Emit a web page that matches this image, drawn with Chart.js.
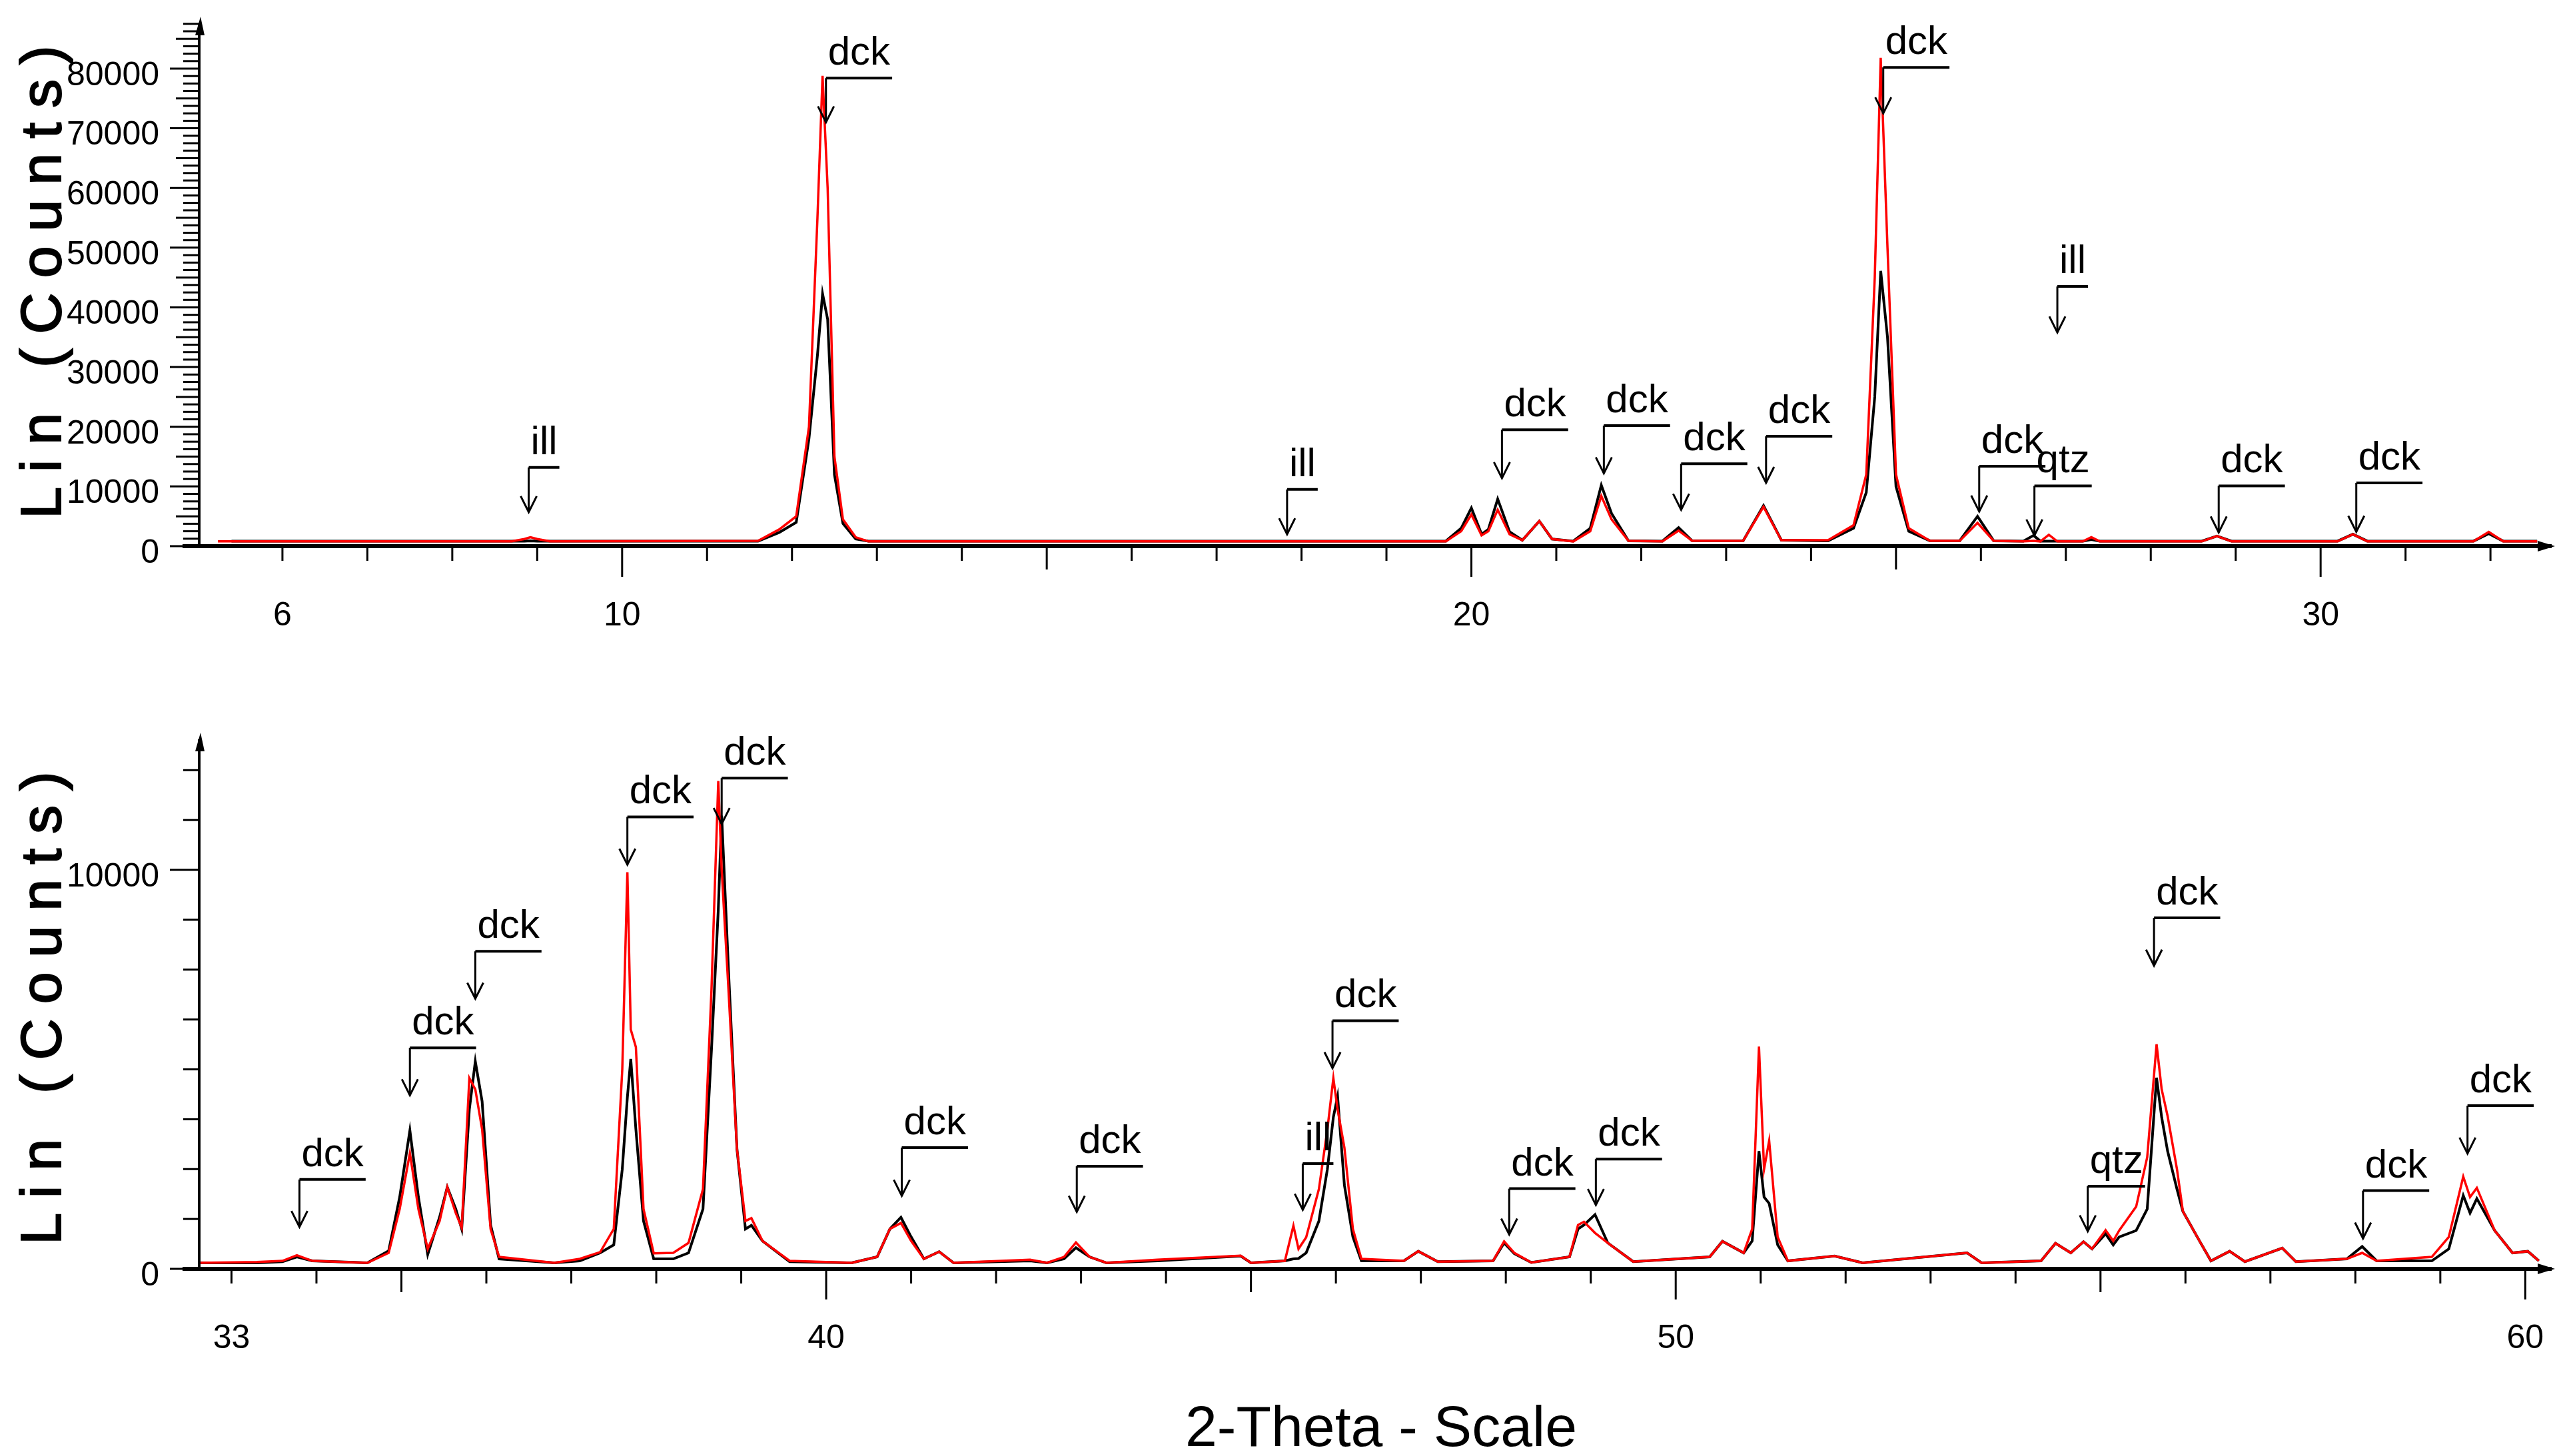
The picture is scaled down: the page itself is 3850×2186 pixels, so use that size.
<!DOCTYPE html>
<html>
<head>
<meta charset="utf-8">
<script src="https://cdn.jsdelivr.net/npm/chart.js@4.4.1/dist/chart.umd.min.js"></script>
<style>
  html, body { margin: 0; padding: 0; background: #fff; }
  canvas { position: absolute; left: 0; }
  #xTitle { position: absolute; left: 0; width: 4146px; top: 2092px; text-align: center;
    font: 86px 'Liberation Sans', Arial, sans-serif; color: #000; }
</style>
</head>
<body>
<canvas id="topChart" width="3850" height="1000" style="top:0"></canvas>
<canvas id="bottomChart" width="3850" height="1186" style="top:1000px"></canvas>
<div id="xTitle">2-Theta - Scale</div>
<script>
// ---- top panel (5 - 33 deg) ----
const topTheta = [5.24, 5.4, 8.7, 8.85, 8.92, 9.0, 9.15, 11.6, 11.85, 12.05, 12.2, 12.3, 12.36, 12.42, 12.5, 12.6, 12.75, 12.9,
  19.7, 19.88, 20.0, 20.12, 20.2, 20.31, 20.45, 20.6, 20.8, 20.95, 21.2, 21.4, 21.53, 21.65, 21.85,
  22.25, 22.44, 22.6, 23.2, 23.44, 23.65, 24.2, 24.5, 24.65, 24.75, 24.82, 24.9, 25.0, 25.15, 25.4,
  25.75, 25.96, 26.15, 26.5, 26.62, 26.7, 26.8, 26.9, 27.2, 27.3, 27.4, 28.6, 28.78, 28.95,
  30.2, 30.38, 30.55, 31.8, 31.98, 32.15, 32.55];
const topRed = [800, 800, 800, 1200, 1500, 1200, 800, 900, 2800, 5000, 20000, 55000, 78800, 60000, 15000, 4500, 1500, 800,
  800, 2500, 5300, 1800, 2500, 6100, 2000, 1000, 4200, 1200, 800, 2500, 8400, 4500, 900,
  800, 2600, 900, 900, 6600, 1000, 1000, 3500, 12000, 45000, 81800, 50000, 12000, 3000, 900,
  900, 3900, 900, 800, 900, 800, 1900, 800, 800, 1500, 800, 800, 1700, 800,
  800, 2000, 800, 800, 2400, 800, 800];
const topBlack = [null, 850, 850, 850, 900, 850, 850, 850, 2300, 4000, 18000, 32000, 42300, 38000, 12000, 3800, 1200, 850,
  850, 3000, 6400, 2000, 2800, 7900, 2400, 1000, 4200, 1200, 850, 3000, 10200, 5500, 900,
  850, 3100, 900, 900, 6800, 1000, 900, 3000, 9000, 25000, 46100, 35000, 10000, 2500, 900,
  900, 5000, 900, 850, 1800, 850, 850, 850, 850, 1100, 850, 850, 1700, 850,
  850, 2000, 850, 850, 2100, 850, 850];
const topNoteText = ['ill', 'dck', 'ill', 'dck', 'dck', 'dck', 'dck', 'dck', 'dck', 'ill', 'qtz', 'dck', 'dck'];
const topNoteTheta = [8.9, 12.4, 17.83, 20.36, 21.56, 22.47, 23.47, 24.85, 25.98, 26.9, 26.63, 28.8, 30.42];
const topNoteTip = [5700, 71000, 2000, 11400, 12200, 6100, 10600, 72500, 5800, 35800, 1800, 2300, 2400];
const topNoteBar = [13200, 78400, 9500, 19500, 20200, 13800, 18400, 80200, 13400, 43500, 10100, 10100, 10600];

// ---- bottom panel (33 - 60 deg) ----
const botTheta = [32.62, 33.3, 33.6, 33.77, 33.95, 34.6, 34.85, 34.98, 35.1, 35.2, 35.31, 35.45, 35.54, 35.64, 35.71, 35.8, 35.87, 35.95, 36.05, 36.15,
  36.8, 37.1, 37.34, 37.5, 37.6, 37.66, 37.7, 37.76, 37.85, 37.97, 38.2, 38.38, 38.55, 38.65, 38.73, 38.77, 38.85, 38.95, 39.05, 39.12, 39.25, 39.57,
  40.3, 40.6, 40.75, 40.88, 41.0, 41.15, 41.33, 41.5, 42.4, 42.6, 42.8, 42.94, 43.1, 43.3, 43.9, 44.88, 45.0,
  45.4, 45.5, 45.56, 45.65, 45.8, 45.9, 45.97, 46.02, 46.1, 46.2, 46.3, 46.8, 46.97, 47.2, 47.85, 47.98, 48.1, 48.3,
  48.75, 48.85, 48.92, 49.05, 49.2, 49.5, 50.4, 50.55, 50.8, 50.9, 50.98, 51.04, 51.1, 51.2, 51.32, 51.87, 52.2, 53.43, 53.6,
  54.3, 54.47, 54.65, 54.8, 54.9, 55.06, 55.15, 55.22, 55.42, 55.55, 55.66, 55.72, 55.79, 55.9, 55.97, 56.16, 56.3, 56.52, 56.7,
  57.14, 57.3, 57.9, 58.08, 58.25, 58.9, 59.1, 59.27, 59.35, 59.43, 59.64, 59.85, 60.03, 60.16];
const botRed = [150, 170, 200, 340, 200, 150, 400, 1500, 2900, 1500, 500, 1200, 2050, 1400, 1030, 4780, 4500, 3500, 1000, 300,
  150, 250, 420, 1000, 5000, 9940, 6000, 5560, 1500, 390, 400, 650, 2000, 7000, 12230, 10000, 7000, 3000, 1200, 1270, 700, 200,
  150, 300, 1000, 1150, 700, 250, 430, 150, 230, 150, 300, 660, 300, 150, 230, 330, 150,
  200, 1080, 500, 790, 2000, 3500, 4780, 4000, 3040, 1000, 250, 200, 440, 180, 200, 690, 400, 160,
  300, 1100, 1180, 900, 650, 180, 300, 690, 400, 1000, 5570, 2500, 3210, 800, 200, 320, 150, 400, 150,
  200, 640, 400, 680, 500, 970, 700, 960, 1560, 2800, 5630, 4500, 3830, 2500, 1440, 720, 200, 440, 180,
  520, 180, 250, 400, 200, 300, 800, 2310, 1800, 2030, 960, 400, 440, 200];
const botBlack = [150, 150, 180, 300, 200, 150, 450, 1800, 3470, 1800, 360, 1300, 2050, 1500, 1000, 4000, 5200, 4200, 1100, 250,
  150, 200, 400, 600, 2500, 4300, 5260, 3500, 1200, 250, 250, 400, 1500, 5500, 9000, 11360, 7500, 3000, 1000, 1090, 700, 180,
  150, 300, 1000, 1290, 800, 250, 430, 150, 200, 150, 250, 530, 300, 150, 200, 320, 150,
  200, 250, 260, 400, 1200, 2500, 3800, 4320, 2100, 800, 200, 200, 440, 180, 200, 650, 380, 160,
  300, 1000, 1100, 1360, 650, 180, 300, 690, 400, 700, 2950, 1800, 1640, 600, 200, 320, 150, 400, 150,
  200, 640, 400, 680, 500, 880, 600, 800, 960, 1500, 4790, 3800, 2950, 2000, 1440, 720, 200, 440, 180,
  520, 180, 250, 560, 200, 200, 500, 1840, 1400, 1760, 960, 400, 440, 200];
const botNoteText = ['dck', 'dck', 'dck', 'dck', 'dck', 'dck', 'dck', 'ill', 'dck', 'dck', 'dck', 'qtz', 'dck', 'dck', 'dck'];
const botNoteTheta = [33.8, 35.1, 35.87, 37.66, 38.77, 40.89, 42.95, 45.61, 45.96, 48.04, 49.06, 54.85, 55.63, 58.09, 59.32];
const botNoteTip = [1050, 4350, 6770, 10130, 11150, 1830, 1430, 1480, 5030, 860, 1600, 940, 7600, 760, 2890];
const botNoteBar = [2240, 5540, 7960, 11330, 12300, 3040, 2570, 2640, 6220, 2010, 2750, 2070, 8800, 1960, 4090];

const FONT = "'Liberation Sans', Arial, sans-serif";
const NARROW = "'Liberation Sans Narrow', 'Liberation Sans', Arial, sans-serif";

function xyPoints(xs, ys) {
  return xs.map((x, i) => ({ x: x, y: ys[i] }));
}

// draws axes, ticks, labels, title and the phase markers through the chart scales
function makeAxesPlugin(cfg) {
  return {
    id: 'xrdAxes',
    afterDatasetsDraw(chart) {
      const ctx = chart.ctx;
      const xs = chart.scales.x, ys = chart.scales.y;
      const a = chart.chartArea;
      const y0 = ys.getPixelForValue(0);
      ctx.save();
      ctx.strokeStyle = '#000';
      ctx.fillStyle = '#000';
      // axis lines
      ctx.lineWidth = 6;
      ctx.beginPath(); ctx.moveTo(a.left - 25, y0); ctx.lineTo(a.right - 5, y0); ctx.stroke();
      ctx.lineWidth = 4;
      ctx.beginPath(); ctx.moveTo(a.left, y0); ctx.lineTo(a.left, a.top + 10); ctx.stroke();
      // arrow heads
      ctx.beginPath(); ctx.moveTo(a.left - 6, a.top + 28); ctx.lineTo(a.left + 8, a.top + 28); ctx.lineTo(a.left + 2, a.top); ctx.closePath(); ctx.fill();
      ctx.beginPath(); ctx.moveTo(a.right - 26, y0 - 8); ctx.lineTo(a.right - 26, y0 + 8); ctx.lineTo(a.right, y0); ctx.closePath(); ctx.fill();
      // x ticks
      ctx.lineWidth = 3;
      ctx.font = '50px ' + NARROW;
      ctx.textAlign = 'center'; ctx.textBaseline = 'middle';
      const first = Math.ceil(xs.min);
      for (let v = first; v <= xs.max; v++) {
        const px = xs.getPixelForValue(v);
        const len = v % 10 === 0 ? 46 : (v % 5 === 0 ? 35 : 22);
        ctx.beginPath(); ctx.moveTo(px, y0); ctx.lineTo(px, y0 + len); ctx.stroke();
        if (v === first || v % 10 === 0) ctx.fillText(String(v), px, y0 + 105);
      }
      // y ticks
      ctx.textAlign = 'right';
      for (let v = 0; v <= ys.max; v += cfg.minorStep) {
        const py = ys.getPixelForValue(v);
        const labelled = v % cfg.labelStep === 0;
        const len = labelled ? 44 : (cfg.midStep && v % cfg.midStep === 0 ? 35 : 24);
        ctx.beginPath(); ctx.moveTo(a.left - len, py); ctx.lineTo(a.left, py); ctx.stroke();
        if (labelled) ctx.fillText(String(v), a.left - 60, py + 11);
      }
      // y title
      ctx.save();
      ctx.translate(67, (a.top + y0) / 2 + cfg.titleShift);
      ctx.rotate(-Math.PI / 2);
      ctx.font = '86px ' + FONT;
      ctx.letterSpacing = '22px';
      ctx.textAlign = 'center';
      ctx.lineWidth = 2;
      ctx.fillText('Lin (Counts)', 0, 0);
      ctx.strokeText('Lin (Counts)', 0, 0);
      ctx.restore();
      // phase markers
      ctx.font = '60px ' + FONT;
      ctx.textAlign = 'left'; ctx.textBaseline = 'alphabetic';
      cfg.text.forEach((t, i) => {
        const px = xs.getPixelForValue(cfg.theta[i]);
        const tip = ys.getPixelForValue(cfg.tip[i]);
        const bar = ys.getPixelForValue(cfg.bar[i]);
        const w = ctx.measureText(t).width + 6;
        ctx.lineWidth = 3;
        ctx.beginPath(); ctx.moveTo(px, bar); ctx.lineTo(px, tip); ctx.stroke();
        ctx.beginPath(); ctx.moveTo(px - 12, tip - 24); ctx.lineTo(px, tip); ctx.lineTo(px + 12, tip - 24); ctx.stroke();
        ctx.lineWidth = 4;
        ctx.beginPath(); ctx.moveTo(px, bar); ctx.lineTo(px + w, bar); ctx.stroke();
        ctx.fillText(t, px + 3, bar - 20);
      });
      ctx.restore();
    }
  };
}

function makeChart(id, theta, red, black, xMin, xMax, yMax, padding, axesCfg) {
  return new Chart(document.getElementById(id), {
    type: 'line',
    data: {
      datasets: [
        { data: xyPoints(theta, red), borderColor: '#ff0000', borderWidth: 3.5, pointRadius: 0, tension: 0, spanGaps: false },
        { data: xyPoints(theta, black), borderColor: '#000000', borderWidth: 4, pointRadius: 0, tension: 0, spanGaps: false }
      ]
    },
    options: {
      responsive: false,
      animation: false,
      devicePixelRatio: 1,
      layout: { padding: padding },
      plugins: { legend: { display: false }, tooltip: { enabled: false } },
      scales: {
        x: { type: 'linear', min: xMin, max: xMax, display: false },
        y: { type: 'linear', min: 0, max: yMax, display: false }
      }
    },
    plugins: [makeAxesPlugin(axesCfg)]
  });
}

makeChart('topChart', topTheta, topRed, topBlack, 5.02, 32.76, 88700,
  { left: 299, top: 25, right: 15, bottom: 180 },
  { minorStep: 1250, labelStep: 10000, midStep: 5000, titleShift: -10,
    text: topNoteText, theta: topNoteTheta, tip: topNoteTip, bar: topNoteBar });

makeChart('bottomChart', botTheta, botRed, botBlack, 32.62, 60.35, 13440,
  { left: 299, top: 100, right: 15, bottom: 281 },
  { minorStep: 1250, labelStep: 10000, midStep: 0, titleShift: 0,
    text: botNoteText, theta: botNoteTheta, tip: botNoteTip, bar: botNoteBar });
</script>
</body>
</html>
